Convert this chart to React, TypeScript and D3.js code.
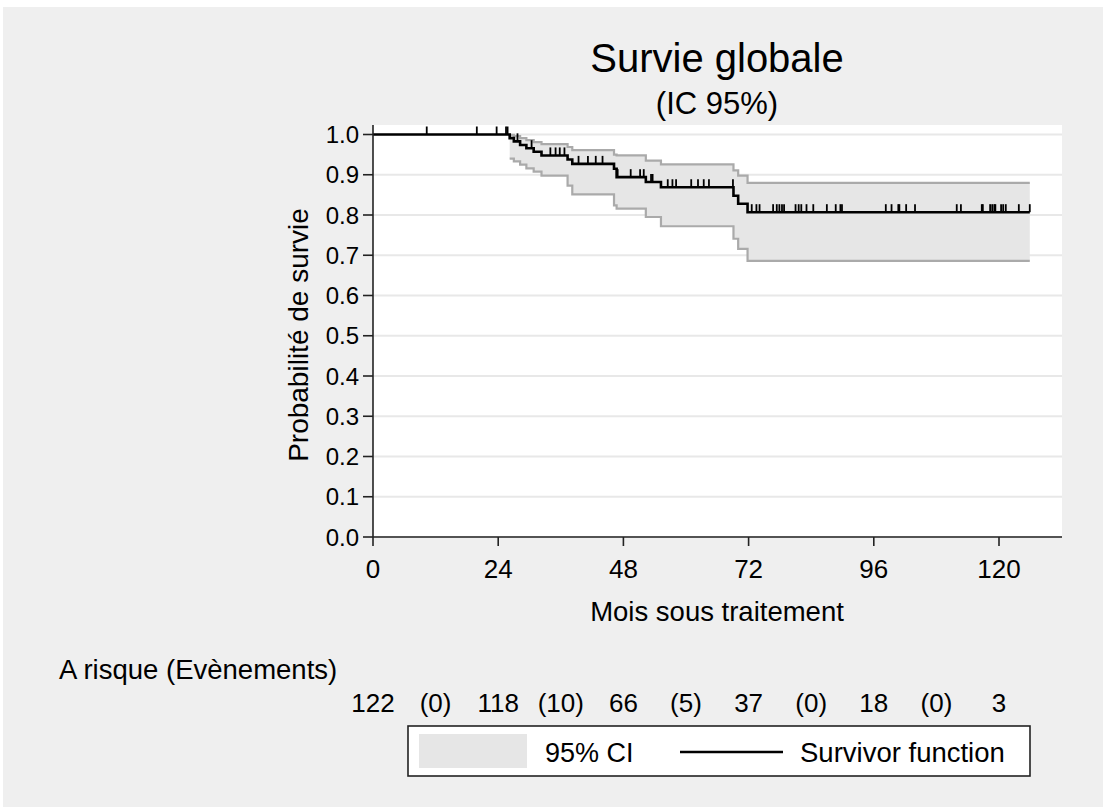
import * as d3 from 'd3';

// number at risk table
const riskMonths = [0, 24, 48, 72, 96, 120];
const atRisk = [122, 118, 66, 37, 18, 3];
const eventMidMonths = [12, 36, 60, 84, 108];
const eventsInInterval = [0, 10, 5, 0, 0];

const xTicks = [0, 24, 48, 72, 96, 120];
const yTicks = [0, 0.1, 0.2, 0.3, 0.4, 0.5, 0.6, 0.7, 0.8, 0.9, 1.0];

// Kaplan-Meier steps
const eventTimes = [26.2, 27.0, 28.2, 29.4, 30.8, 32.3, 37.3, 38.2, 46.2, 46.7, 52.3, 55.2, 69.1, 70.0, 71.8];
const survival = [0.991, 0.983, 0.974, 0.966, 0.957, 0.948, 0.938, 0.927, 0.915, 0.894, 0.882, 0.869, 0.848, 0.828, 0.807];
const ciLower = [0.940, 0.933, 0.925, 0.916, 0.908, 0.898, 0.873, 0.851, 0.824, 0.816, 0.795, 0.772, 0.741, 0.716, 0.686];
const ciUpper = [0.999, 0.996, 0.991, 0.986, 0.981, 0.976, 0.969, 0.961, 0.950, 0.948, 0.935, 0.926, 0.911, 0.898, 0.880];
const followUpEnd = 125.9;

const censorTimes = [
  10.3, 19.9, 23.7, 25.5, 25.8, 27.7, 30.4, 34.0, 35.0, 35.8, 36.7, 39.4, 41.2, 42.7, 44.0,
  46.9, 49.4, 51.2, 51.9, 53.3, 53.6, 56.5, 57.4, 58.1, 61.0, 62.3, 63.4, 64.4, 69.0,
  72.6, 73.5, 74.1, 76.7, 77.4, 77.9, 78.4, 78.8, 81.0, 81.6, 82.1, 83.1, 84.4, 87.0,
  88.7, 89.6, 89.9, 98.3, 99.4, 100.7, 100.9, 102.2, 103.9, 111.9, 112.7, 116.7, 116.9,
  118.3, 118.7, 119.1, 119.3, 120.4, 120.8, 121.3, 123.8, 125.9,
];

const W = 1107;
const H = 810;
const left = 373;
const right = 1062;
const top = 125;
const bottom = 537;
const font = '"Liberation Sans", Arial, sans-serif';

const App = () => {
  const x = d3.scaleLinear().domain([0, 120]).range([left, 999]);
  const y = d3.scaleLinear().domain([0, 1]).range([bottom, 134.5]);

  const kmPts: [number, number][] = [[0, 1], ...eventTimes.map((t, i) => [t, survival[i]] as [number, number])];
  kmPts.push([followUpEnd, survival[survival.length - 1]]);

  const ciPts = eventTimes.map((t, i) => ({ t, lo: ciLower[i], hi: ciUpper[i] }));
  ciPts.push({ t: followUpEnd, lo: ciLower[ciLower.length - 1], hi: ciUpper[ciUpper.length - 1] });

  const kmLine = d3.line<[number, number]>().x(d => x(d[0])).y(d => y(d[1])).curve(d3.curveStepAfter);
  const band = d3.area<any>().x(d => x(d.t)).y0(d => y(d.lo)).y1(d => y(d.hi)).curve(d3.curveStepAfter);
  const loLine = d3.line<any>().x(d => x(d.t)).y(d => y(d.lo)).curve(d3.curveStepAfter);
  const hiLine = d3.line<any>().x(d => x(d.t)).y(d => y(d.hi)).curve(d3.curveStepAfter);

  const survAt = (c: number) => {
    let s = 1;
    eventTimes.forEach((t, i) => { if (t <= c) s = survival[i]; });
    return s;
  };

  return (
    <svg width={W} height={H} style={{ position: 'absolute', left: 0, top: 0 }} fontFamily={font}>
      <rect x={0} y={0} width={W} height={H} fill="#fff" />
      <rect x={3} y={7} width={1100} height={800} fill="#efefef" />

      <text x={717} y={72} textAnchor="middle" fontSize={40} fill="#000">Survie globale</text>
      <text x={717} y={114} textAnchor="middle" fontSize={31} fill="#000">(IC 95%)</text>

      <rect x={left} y={top} width={right - left} height={bottom - top} fill="#fff" />
      {yTicks.map(t => (
        <line key={'g' + t} x1={left} x2={right} y1={y(t)} y2={y(t)} stroke="#e8e8e8" strokeWidth={2} />
      ))}

      <path d={band(ciPts) || ''} fill="#e6e6e6" stroke="none" />
      <path d={loLine(ciPts) || ''} fill="none" stroke="#aaaaaa" strokeWidth={2.2} />
      <path d={hiLine(ciPts) || ''} fill="none" stroke="#aaaaaa" strokeWidth={2.2} />
      <path d={kmLine(kmPts) || ''} fill="none" stroke="#000" strokeWidth={2.6} />
      {censorTimes.map((c, i) => (
        <line key={'c' + i} x1={x(c)} x2={x(c)} y1={y(survAt(c))} y2={y(survAt(c)) - 8} stroke="#000" strokeWidth={1.8} />
      ))}

      {/* axes */}
      <line x1={left} x2={left} y1={top} y2={bottom} stroke="#222" strokeWidth={1.6} />
      <line x1={left} x2={right} y1={bottom} y2={bottom} stroke="#222" strokeWidth={1.6} />
      {yTicks.map(t => (
        <g key={'y' + t}>
          <line x1={left - 10} x2={left} y1={y(t)} y2={y(t)} stroke="#222" strokeWidth={1.6} />
          <text x={359} y={y(t)} dy="0.36em" textAnchor="end" fontSize={24} fill="#000">{t.toFixed(1)}</text>
        </g>
      ))}
      {xTicks.map(t => (
        <g key={'x' + t}>
          <line x1={x(t)} x2={x(t)} y1={bottom} y2={bottom + 9} stroke="#222" strokeWidth={1.6} />
          <text x={x(t)} y={578} textAnchor="middle" fontSize={26} fill="#000">{t}</text>
        </g>
      ))}
      <text x={717} y={621} textAnchor="middle" fontSize={27.5} fill="#000">Mois sous traitement</text>
      <text transform="translate(308,335) rotate(-90)" textAnchor="middle" fontSize={28} fill="#000">Probabilité de survie</text>

      {/* number at risk */}
      <text x={59} y={679} fontSize={27.5} fill="#000">A risque (Evènements)</text>
      {riskMonths.map((m, i) => (
        <text key={'r' + m} x={x(m)} y={712} textAnchor="middle" fontSize={26} fill="#000">{atRisk[i]}</text>
      ))}
      {eventMidMonths.map((m, i) => (
        <text key={'e' + m} x={x(m)} y={712} textAnchor="middle" fontSize={26} fill="#000">({eventsInInterval[i]})</text>
      ))}

      {/* legend */}
      <rect x={408} y={726} width={622} height={50} fill="#fff" stroke="#222" strokeWidth={1.6} />
      <rect x={419} y={734} width={108} height={34} fill="#e6e6e6" />
      <text x={545} y={762} fontSize={27} fill="#000">95% CI</text>
      <line x1={680} x2={783} y1={752} y2={752} stroke="#000" strokeWidth={2.6} />
      <text x={800} y={762} fontSize={27.5} fill="#000">Survivor function</text>
    </svg>
  );
};

export default App;
